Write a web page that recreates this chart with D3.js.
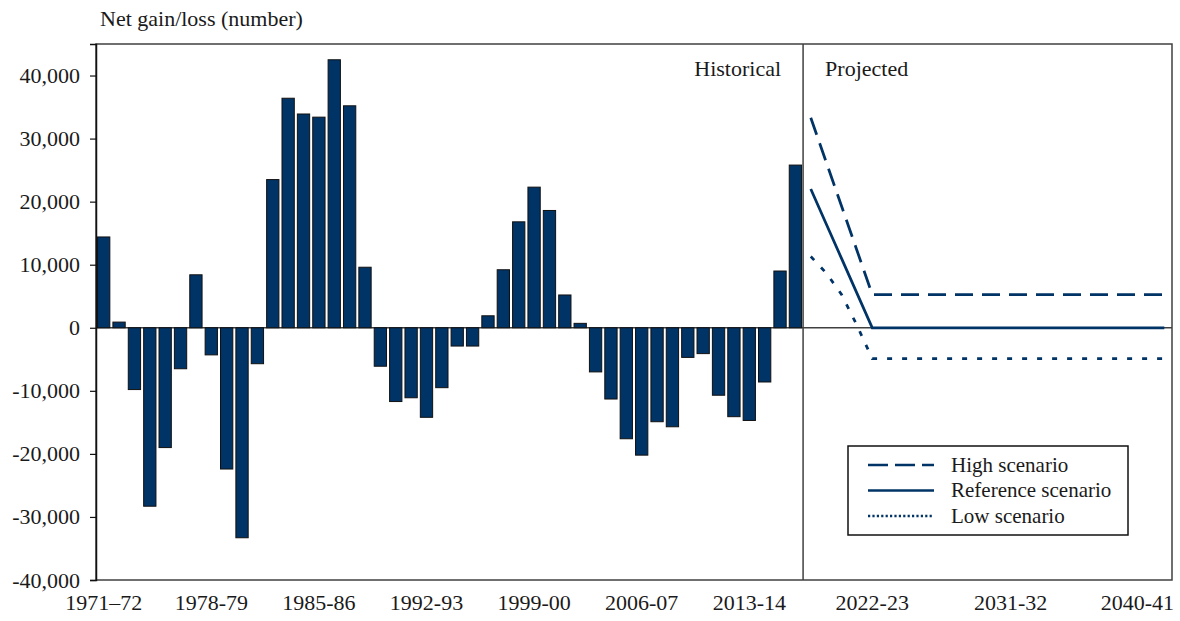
<!DOCTYPE html>
<html>
<head>
<meta charset="utf-8">
<script src="https://cdn.jsdelivr.net/npm/d3@7"></script>
<style>
    body { margin: 0; background: #fff; }
    svg text { font-family: "Liberation Serif", "Times New Roman", serif; fill: #1a1a1a; }
</style>
</head>
<body>
<div id="chart"></div>
<script>
/**
 * Historical years (one bar each).
 * @type Array
 */
var HIST_YEARS = [
    "1971-72", "1972-73", "1973-74", "1974-75", "1975-76", "1976-77", "1977-78",
    "1978-79", "1979-80", "1980-81", "1981-82", "1982-83", "1983-84", "1984-85",
    "1985-86", "1986-87", "1987-88", "1988-89", "1989-90", "1990-91", "1991-92",
    "1992-93", "1993-94", "1994-95", "1995-96", "1996-97", "1997-98", "1998-99",
    "1999-00", "2000-01", "2001-02", "2002-03", "2003-04", "2004-05", "2005-06",
    "2006-07", "2007-08", "2008-09", "2009-10", "2010-11", "2011-12", "2012-13",
    "2013-14", "2014-15", "2015-16", "2016-17"
];
var HIST_VALUES = [
    14400, 900, -9800, -28300, -19000, -6500, 8400,
    -4300, -22400, -33300, -5700, 23500, 36400, 33900,
    33400, 42500, 35200, 9600, -6100, -11700, -11100,
    -14200, -9500, -2900, -2900, 1900, 9200, 16800,
    22300, 18600, 5200, 700, -7000, -11300, -17600,
    -20200, -14900, -15700, -4700, -4100, -10700, -14100,
    -14700, -8600, 9000, 25800
];

/**
 * Projected years (three scenario lines).
 * @type Array
 */
var PROJ_YEARS = [
    "2018-19", "2019-20", "2020-21", "2021-22", "2022-23", "2023-24", "2024-25", "2025-26",
    "2026-27", "2027-28", "2028-29", "2029-30", "2030-31", "2031-32", "2032-33", "2033-34",
    "2034-35", "2035-36", "2036-37", "2037-38", "2038-39", "2039-40", "2040-41", "2041-42"
];
var HIGH_VALUES = [
    33300, 26300, 19300, 12300, 5250, 5250, 5250, 5250,
    5250, 5250, 5250, 5250, 5250, 5250, 5250, 5250,
    5250, 5250, 5250, 5250, 5250, 5250, 5250, 5250
];
var REF_VALUES = [
    22000, 16500, 11000, 5500, 0, 0, 0, 0,
    0, 0, 0, 0, 0, 0, 0, 0,
    0, 0, 0, 0, 0, 0, 0, 0
];
var LOW_VALUES = [
    11300, 8700, 5300, 400, -4900, -4900, -4900, -4900,
    -4900, -4900, -4900, -4900, -4900, -4900, -4900, -4900,
    -4900, -4900, -4900, -4900, -4900, -4900, -4900, -4900
];

var HIST_TICKS = ["1971-72", "1978-79", "1985-86", "1992-93", "1999-00", "2006-07", "2013-14"];
var HIST_TICK_TEXT = ["1971\u201372", "1978-79", "1985-86", "1992-93", "1999-00", "2006-07", "2013-14"];
var PROJ_TICKS = ["2022-23", "2031-32", "2040-41"];
var Y_TICKS = [-40000, -30000, -20000, -10000, 0, 10000, 20000, 30000, 40000];

var SERIES = [
    { name: "High scenario", values: HIGH_VALUES, dash: "18,9", legendDash: "20,7" },
    { name: "Reference scenario", values: REF_VALUES, dash: null, legendDash: null },
    { name: "Low scenario", values: LOW_VALUES, dash: "5,10", legendDash: "2.2,2.2" }
];

var WIDTH = 1180, HEIGHT = 621;
var MARGIN = { top: 44, right: 8, bottom: 41, left: 96 };
var NAVY = "#003366";

var svg = d3.select("#chart").append("svg")
    .attr("width", WIDTH)
    .attr("height", HEIGHT);

var x = d3.scaleBand()
    .domain(HIST_YEARS.concat(PROJ_YEARS))
    .range([MARGIN.left, WIDTH - MARGIN.right])
    .paddingInner(0.2)
    .paddingOuter(0.1);

var y = d3.scaleLinear()
    .domain([-40000, 45000])
    .range([HEIGHT - MARGIN.bottom, MARGIN.top]);

var cx = function(d) { return x(d) + x.bandwidth() / 2; };

// plot frame
svg.append("rect")
    .attr("x", MARGIN.left)
    .attr("y", MARGIN.top)
    .attr("width", WIDTH - MARGIN.left - MARGIN.right)
    .attr("height", HEIGHT - MARGIN.top - MARGIN.bottom)
    .attr("fill", "none")
    .attr("stroke", "#404040")
    .attr("stroke-width", 1.5);

// zero line
svg.append("line")
    .attr("x1", MARGIN.left)
    .attr("x2", WIDTH - MARGIN.right)
    .attr("y1", y(0))
    .attr("y2", y(0))
    .attr("stroke", "#404040")
    .attr("stroke-width", 1.5);

// historical / projected divider
var divX = x(PROJ_YEARS[0]) - (x.step() - x.bandwidth()) / 2;
svg.append("line")
    .attr("x1", divX)
    .attr("x2", divX)
    .attr("y1", MARGIN.top)
    .attr("y2", HEIGHT - MARGIN.bottom)
    .attr("stroke", "#404040")
    .attr("stroke-width", 1.5);

// bars
svg.append("g").selectAll("rect")
    .data(HIST_VALUES)
    .join("rect")
    .attr("x", function(d, i) { return x(HIST_YEARS[i]); })
    .attr("width", x.bandwidth())
    .attr("y", function(d) { return y(Math.max(0, d)); })
    .attr("height", function(d) { return Math.abs(y(d) - y(0)); })
    .attr("fill", NAVY)
    .attr("stroke", "#111")
    .attr("stroke-width", 1);

// scenario lines
var line = d3.line()
    .x(function(d, i) { return cx(PROJ_YEARS[i]); })
    .y(function(d) { return y(d); });

svg.append("g").selectAll("path")
    .data(SERIES)
    .join("path")
    .attr("d", function(s) { return line(s.values); })
    .attr("fill", "none")
    .attr("stroke", NAVY)
    .attr("stroke-width", 2.75)
    .attr("stroke-dasharray", function(s) { return s.dash; });

// y axis
var yAxis = svg.append("g")
    .attr("transform", "translate(" + MARGIN.left + ",0)")
    .call(d3.axisLeft(y).tickValues(Y_TICKS).tickSize(6).tickPadding(10)
        .tickFormat(function(d) { return d3.format(",")(d).replace("\u2212", "-"); }));
yAxis.select(".domain").attr("stroke", "#111").attr("stroke-width", 1.5);
yAxis.selectAll(".tick line").attr("stroke", "#111").attr("stroke-width", 1.2);
yAxis.selectAll("text").style("font-size", "22px").attr("fill", "#1a1a1a");

// x axis labels
var xAxis = svg.append("g")
    .attr("transform", "translate(0," + (HEIGHT - MARGIN.bottom) + ")")
    .call(d3.axisBottom(x).tickValues(HIST_TICKS.concat(PROJ_TICKS)).tickSize(0).tickPadding(14)
        .tickFormat(function(d) {
            var k = HIST_TICKS.indexOf(d);
            return k >= 0 ? HIST_TICK_TEXT[k] : d;
        }));
xAxis.select(".domain").remove();
xAxis.selectAll("text").style("font-size", "22px").attr("fill", "#1a1a1a");
// keep the last label inside the picture
xAxis.selectAll("text").each(function() {
    var box = this.getBBox();
    var tick = d3.select(this.parentNode).attr("transform");
    var tx = +tick.match(/translate\(([-\d.]+)/)[1];
    var over = tx + box.x + box.width - (WIDTH - 6);
    if (over > 0) d3.select(this).attr("x", -over);
});

// titles
svg.append("text")
    .attr("x", 100)
    .attr("y", 26)
    .style("font-size", "22px")
    .text("Net gain/loss (number)");

svg.append("text")
    .attr("x", divX - 22)
    .attr("y", 76)
    .attr("text-anchor", "end")
    .style("font-size", "22px")
    .text("Historical");

svg.append("text")
    .attr("x", divX + 22)
    .attr("y", 76)
    .style("font-size", "22px")
    .text("Projected");

// legend
var legend = svg.append("g").attr("transform", "translate(848,446)");
legend.append("rect")
    .attr("width", 280)
    .attr("height", 89)
    .attr("fill", "#fff")
    .attr("stroke", "#111")
    .attr("stroke-width", 1.5);

var item = legend.selectAll("g.item")
    .data(SERIES)
    .join("g")
    .attr("class", "item")
    .attr("transform", function(d, i) { return "translate(0," + (19 + i * 25.5) + ")"; });
item.append("line")
    .attr("x1", 20)
    .attr("x2", 86)
    .attr("stroke", NAVY)
    .attr("stroke-width", 2.5)
    .attr("stroke-dasharray", function(s) { return s.legendDash; });
item.append("text")
    .attr("x", 103)
    .attr("dy", "0.33em")
    .style("font-size", "21px")
    .text(function(s) { return s.name; });
</script>
</body>
</html>
